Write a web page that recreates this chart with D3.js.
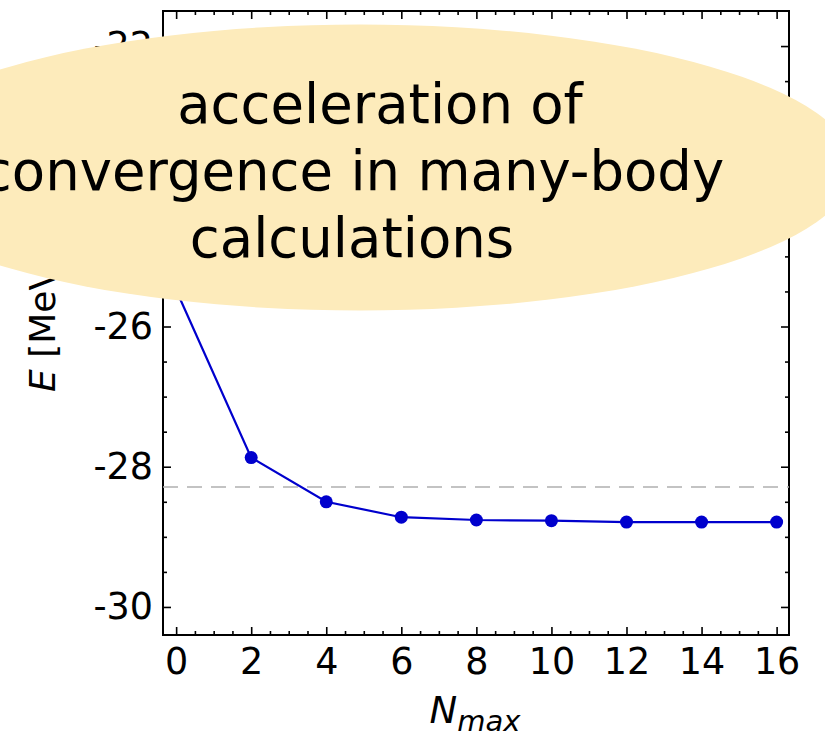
<!DOCTYPE html>
<html>
<head>
<meta charset="utf-8">
<script src="https://cdn.jsdelivr.net/npm/d3@7"></script>
<style>
  html, body { margin: 0; padding: 0; background: #fff; }
  svg { display: block; font-family: "DejaVu Sans", sans-serif; }
</style>
</head>
<body>
<svg id="chart" width="825" height="739"></svg>
<script>
// ---- data ----
const nmax = [0, 2, 4, 6, 8, 10, 12, 14, 16];
const energy = [-25.48, -27.87, -28.50, -28.72, -28.76, -28.77, -28.79, -28.79, -28.79];
const referenceEnergy = -28.29;
const xTickValues = [0, 2, 4, 6, 8, 10, 12, 14, 16];
const yTickValues = [-30, -28, -26, -24, -22];
const xDomain = [-0.35, 16.33];
const yDomain = [-30.4, -21.5];
const noteLines = ["acceleration of", "convergence in many-body", "calculations"];

// ---- layout ----
const svg = d3.select("#chart");
const L = 163, R = 789, T = 11, B = 635;
const x = d3.scaleLinear().domain(xDomain).range([L, R]);
const y = d3.scaleLinear().domain(yDomain).range([B, T]);

const xMinor = d3.range(0, 16.01, 0.5).filter(v => v % 2 !== 0);
const yMinor = d3.range(-30, -21.6, 0.5).filter(v => Math.abs(v % 2) > 1e-9);
const tickFont = 36.5;

function styleAxis(g) {
  g.select(".domain").remove();
  g.selectAll(".tick line").attr("stroke", "#000").attr("stroke-width", 1.6);
  g.selectAll(".tick text").attr("fill", "#000").style("font-size", tickFont + "px")
    .style("font-family", "DejaVu Sans");
}

// bottom
svg.append("g").attr("transform", `translate(0,${B})`)
  .call(d3.axisBottom(x).tickValues(xTickValues).tickFormat(d3.format("d")).tickSizeInner(-8).tickSizeOuter(0).tickPadding(13))
  .call(styleAxis);
svg.append("g").attr("transform", `translate(0,${B})`)
  .call(d3.axisBottom(x).tickValues(xMinor).tickFormat("").tickSizeInner(-4).tickSizeOuter(0))
  .call(styleAxis);
// top
svg.append("g").attr("transform", `translate(0,${T})`)
  .call(d3.axisTop(x).tickValues(xTickValues).tickFormat("").tickSizeInner(-8).tickSizeOuter(0))
  .call(styleAxis);
svg.append("g").attr("transform", `translate(0,${T})`)
  .call(d3.axisTop(x).tickValues(xMinor).tickFormat("").tickSizeInner(-4).tickSizeOuter(0))
  .call(styleAxis);
// left
svg.append("g").attr("transform", `translate(${L},0)`)
  .call(d3.axisLeft(y).tickValues(yTickValues).tickFormat(d3.format("d")).tickSizeInner(-8).tickSizeOuter(0).tickPadding(10))
  .call(styleAxis);
svg.append("g").attr("transform", `translate(${L},0)`)
  .call(d3.axisLeft(y).tickValues(yMinor).tickFormat("").tickSizeInner(-4).tickSizeOuter(0))
  .call(styleAxis);
// right
svg.append("g").attr("transform", `translate(${R},0)`)
  .call(d3.axisRight(y).tickValues(yTickValues).tickFormat("").tickSizeInner(-8).tickSizeOuter(0))
  .call(styleAxis);
svg.append("g").attr("transform", `translate(${R},0)`)
  .call(d3.axisRight(y).tickValues(yMinor).tickFormat("").tickSizeInner(-4).tickSizeOuter(0))
  .call(styleAxis);

// hyphen minus instead of unicode minus
svg.selectAll(".tick text").text(function() { return this.textContent.replace("\u2212", "-"); });

// frame
svg.append("rect").attr("x", L).attr("y", T).attr("width", R - L).attr("height", B - T)
  .attr("fill", "none").attr("stroke", "#000").attr("stroke-width", 2);

// reference dashed line
svg.append("line")
  .attr("x1", L).attr("x2", R)
  .attr("y1", y(referenceEnergy)).attr("y2", y(referenceEnergy))
  .attr("stroke", "#b0b0b0").attr("stroke-width", 1.5).attr("stroke-dasharray", "15,9");

// data line + markers
const pts = nmax.map((n, i) => [n, energy[i]]);
svg.append("path").datum(pts)
  .attr("fill", "none").attr("stroke", "#0000cd").attr("stroke-width", 2.2)
  .attr("d", d3.line().x(d => x(d[0])).y(d => y(d[1])));
svg.selectAll("circle.pt").data(pts).enter().append("circle")
  .attr("class", "pt").attr("cx", d => x(d[0])).attr("cy", d => y(d[1])).attr("r", 6.5)
  .attr("fill", "#0000cd");

// axis labels
svg.append("text")
  .attr("transform", "translate(55,322) rotate(-90)")
  .attr("text-anchor", "middle").style("font-size", "36px").attr("fill", "#000")
  .call(t => {
    t.append("tspan").style("font-style", "italic").text("E");
    t.append("tspan").text(" [MeV]");
  });
svg.append("text")
  .attr("x", 475).attr("y", 723)
  .attr("text-anchor", "middle").style("font-size", "37px").attr("fill", "#000")
  .call(t => {
    t.append("tspan").style("font-style", "italic").text("N");
    t.append("tspan").style("font-style", "italic").style("font-size", "29px").attr("dy", 8).text("max");
  });

// annotation ellipse
svg.append("ellipse")
  .attr("cx", 360).attr("cy", 167.5).attr("rx", 494).attr("ry", 143)
  .attr("fill", "#fdebbb");
const lineCenters = [380, 353, 352];
const lineBaselines = [123, 190, 257];
svg.selectAll("text.note").data(noteLines).enter().append("text")
  .attr("class", "note")
  .attr("x", (d, i) => lineCenters[i]).attr("y", (d, i) => lineBaselines[i])
  .attr("text-anchor", "middle").style("font-size", "54.5px").attr("fill", "#000")
  .text(d => d);
</script>
</body>
</html>
